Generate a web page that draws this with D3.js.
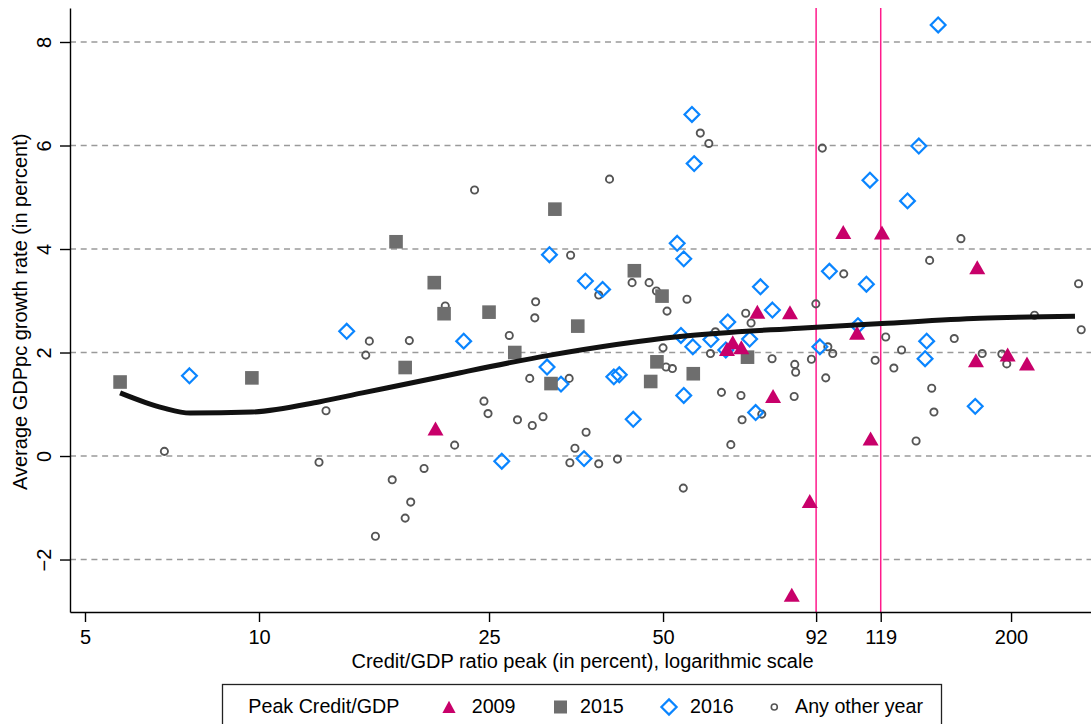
<!DOCTYPE html>
<html>
<head>
<meta charset="utf-8">
<script src="https://cdn.jsdelivr.net/npm/d3@7"></script>
<style>
  body { margin: 0; background: #fff; }
  svg { display: block; font-family: 'Liberation Sans', Arial, Helvetica, sans-serif; }
</style>
</head>
<body>
<svg id="chart"></svg>
<script>
const width = 1091;
const height = 724;

// peak credit/GDP (percent) and average GDPpc growth (percent), by peak year
const peak2009 = [20.2, 64.5, 66.0, 68.3, 72.8, 77.5, 82.9, 83.5, 89.7, 102.5, 108.3, 114.3, 119.6, 173.9, 174.8, 197.3, 213.1];
const growth2009 = [0.52, 2.06, 2.19, 2.09, 2.78, 1.15, 2.77, -2.69, -0.88, 4.32, 2.37, 0.33, 4.31, 1.84, 3.64, 1.95, 1.78];

const peak2015 = [5.75, 9.72, 17.26, 17.9, 20.1, 20.9, 25.0, 27.7, 32.0, 32.5, 35.6, 44.6, 47.6, 48.8, 49.8, 56.4, 70.0];
const growth2015 = [1.43, 1.51, 4.14, 1.71, 3.35, 2.75, 2.78, 2.0, 1.40, 4.77, 2.51, 3.58, 1.44, 1.82, 3.09, 1.59, 1.91];

const peak2016 = [7.58, 14.18, 22.6, 26.3, 31.5, 31.8, 33.3, 36.5, 36.7, 39.3, 41.1, 42.0, 44.4, 52.9, 53.7, 54.3, 54.3,
  56.1, 56.3, 56.6, 60.5, 64.2, 64.7, 70.6, 72.3, 73.7, 77.3, 93.4, 97.0, 108.7, 112.4, 114.0, 132.4, 138.5, 142.0,
  142.9, 149.6, 173.4];
const growth2016 = [1.55, 2.41, 2.22, -0.10, 1.72, 3.89, 1.39, -0.05, 3.38, 3.22, 1.53, 1.57, 0.71, 4.11, 2.33, 3.81, 1.17,
  6.6, 2.11, 5.65, 2.25, 2.05, 2.59, 2.26, 0.84, 3.27, 2.82, 2.11, 3.57, 2.52, 3.32, 5.33, 4.93, 5.99, 1.88,
  2.22, 8.33, 0.96];

const peakOther = [6.86, 12.7, 13.06, 15.3, 15.52, 15.9, 17.0, 17.9, 18.2, 18.3, 19.3, 21.0, 21.8, 23.6, 24.5, 24.9,
  27.1, 28.0, 29.4, 29.7, 30.0, 30.1, 31.0, 34.4, 34.5, 34.6, 35.2, 36.8, 38.7, 38.7, 40.4, 41.7, 44.2, 47.3, 48.7,
  50.0, 50.6, 50.8, 51.9, 54.2, 55.0, 58.0, 60.0, 60.4, 61.6, 63.1, 65.5, 68.2, 68.5, 69.5, 71.0, 74.1, 77.2, 84.3,
  84.5, 84.8, 90.3, 91.9, 94.3, 95.6, 96.4, 98.3, 102.7, 116.4, 121.4, 125.4, 129.3, 137.0, 144.6, 145.8, 147.1,
  159.5, 163.8, 178.3, 192.8, 196.6, 219.6, 261.7, 264.5];
const growthOther = [0.09, -0.12, 0.875, 1.95, 2.22, -1.55, -0.46, -1.2, 2.23, -0.89, -0.24, 2.90, 0.21, 5.14, 1.06, 0.82,
  2.33, 0.70, 1.50, 0.59, 2.67, 2.98, 0.76, 1.50, -0.13, 3.88, 0.15, 0.46, 3.11, -0.15, 5.35, -0.06, 3.35, 3.35, 3.19,
  2.09, 1.72, 2.80, 1.69, -0.62, 3.03, 6.24, 6.04, 1.98, 2.40, 1.23, 0.22, 1.17, 0.70, 2.76, 2.57, 0.81, 1.88, 1.15,
  1.77, 1.62, 1.87, 2.94, 5.95, 1.51, 2.11, 1.98, 3.52, 1.85, 2.30, 1.70, 2.05, 0.29, 3.78, 1.31, 0.85,
  2.27, 4.20, 1.98, 1.97, 1.78, 2.72, 3.33, 2.44];

// fitted line
const fitX = [5.75, 6.82, 7.6, 9.72, 12.75, 15.1, 18.5, 22.3, 31.9, 53.5, 86, 119.6, 176.5, 258];
const fitY = [1.22, 0.93, 0.83, 0.85, 1.05, 1.22, 1.42, 1.61, 1.95, 2.31, 2.47, 2.56, 2.66, 2.70];

const xTicks = [5, 10, 25, 50, 92, 119, 200];
const yTicks = [-2, 0, 2, 4, 6, 8];
const markLines = [92, 119];

const legendItems = ['2009', '2015', '2016', 'Any other year'];

const svg = d3.select('#chart')
  .attr('width', width)
  .attr('height', height);

const x = d3.scaleLog().domain([4.71, 275]).range([70, 1091]);
const y = d3.scaleLinear().domain([-3.014, 8.657]).range([612, 8]);

// grid
svg.append('g')
  .selectAll('line')
  .data(yTicks)
  .enter()
  .append('line')
  .attr('x1', 70).attr('x2', 1091)
  .attr('y1', d => y(d)).attr('y2', d => y(d))
  .attr('stroke', '#9a9a9a')
  .attr('stroke-width', 1.4)
  .attr('stroke-dasharray', '6,4.7');

// reference lines
svg.append('g')
  .selectAll('line')
  .data(markLines)
  .enter()
  .append('line')
  .attr('x1', d => x(d)).attr('x2', d => x(d))
  .attr('y1', 8).attr('y2', 612)
  .attr('stroke', '#ff1a8c')
  .attr('stroke-width', 1.5);

// axes
const xAxis = svg.append('g')
  .attr('transform', 'translate(0,612)')
  .call(d3.axisBottom(x).tickValues(xTicks).tickFormat(d3.format('d'))
    .tickSize(10).tickSizeOuter(0).tickPadding(8));
xAxis.select('.domain').attr('stroke', '#000').attr('stroke-width', 1.4);
xAxis.selectAll('.tick line').attr('stroke', '#000').attr('stroke-width', 1.4);
xAxis.selectAll('.tick text')
  .attr('font-size', 20)
  .attr('font-family', "'Liberation Sans', Arial, sans-serif")
  .attr('fill', '#000');

const yAxis = svg.append('g')
  .attr('transform', 'translate(70,0)')
  .call(d3.axisLeft(y).tickValues(yTicks).tickFormat(d3.format('d'))
    .tickSize(10).tickSizeOuter(0));
yAxis.select('.domain').attr('stroke', '#000').attr('stroke-width', 1.4);
yAxis.selectAll('.tick line').attr('stroke', '#000').attr('stroke-width', 1.4);
yAxis.selectAll('.tick text')
  .attr('x', null).attr('dy', null)
  .attr('transform', 'translate(-19.5,0) rotate(-90)')
  .attr('text-anchor', 'middle')
  .attr('font-size', 20)
  .attr('font-family', "'Liberation Sans', Arial, sans-serif")
  .attr('fill', '#000');

// titles
svg.append('text')
  .attr('x', 582.5).attr('y', 667.5)
  .attr('text-anchor', 'middle')
  .attr('font-size', 20)
  .text('Credit/GDP ratio peak (in percent), logarithmic scale');

svg.append('text')
  .attr('transform', 'translate(27,490) rotate(-90)')
  .attr('text-anchor', 'start')
  .attr('font-size', 20)
  .text('Average GDPpc growth rate (in percent)');

// markers
const triPath = 'M0,-7.5L8,6.5L-8,6.5Z';
const diaPath = 'M0,-7.4L7.4,0L0,7.4L-7.4,0Z';
const colTri = '#c8006a';
const colSq = '#6e6e6e';
const colDia = '#0a85ff';
const colCirc = '#555555';

const pts = svg.append('g');

pts.selectAll('circle.other')
  .data(d3.zip(peakOther, growthOther))
  .enter()
  .append('circle')
  .attr('class', 'other')
  .attr('cx', d => x(d[0])).attr('cy', d => y(d[1]))
  .attr('r', 3.6)
  .attr('fill', 'none')
  .attr('stroke', colCirc)
  .attr('stroke-width', 1.9);

pts.selectAll('path.p2016')
  .data(d3.zip(peak2016, growth2016))
  .enter()
  .append('path')
  .attr('class', 'p2016')
  .attr('d', diaPath)
  .attr('transform', d => 'translate(' + x(d[0]) + ',' + y(d[1]) + ')')
  .attr('fill', 'none')
  .attr('stroke', colDia)
  .attr('stroke-width', 2.2);

pts.selectAll('rect.p2015')
  .data(d3.zip(peak2015, growth2015))
  .enter()
  .append('rect')
  .attr('class', 'p2015')
  .attr('x', d => x(d[0]) - 6.8).attr('y', d => y(d[1]) - 6.8)
  .attr('width', 13.6).attr('height', 13.6)
  .attr('fill', colSq);

pts.selectAll('path.p2009')
  .data(d3.zip(peak2009, growth2009))
  .enter()
  .append('path')
  .attr('class', 'p2009')
  .attr('d', triPath)
  .attr('transform', d => 'translate(' + x(d[0]) + ',' + y(d[1]) + ')')
  .attr('fill', colTri);

// fit line
const line = d3.line()
  .x(d => x(d[0]))
  .y(d => y(d[1]))
  .curve(d3.curveMonotoneX);

svg.append('path')
  .attr('d', line(d3.zip(fitX, fitY)))
  .attr('fill', 'none')
  .attr('stroke', '#111')
  .attr('stroke-width', 5)
  .attr('stroke-linejoin', 'round');

// legend
const legend = svg.append('g');
legend.append('rect')
  .attr('x', 222.5).attr('y', 684.5)
  .attr('width', 719).attr('height', 60)
  .attr('fill', '#fff')
  .attr('stroke', '#222')
  .attr('stroke-width', 1.3);

legend.append('text')
  .attr('x', 248.3).attr('y', 712.5)
  .attr('font-size', 19.7)
  .text('Peak Credit/GDP');

const legX = [449, 560.5, 669, 774.3];
const legTextX = [471.7, 580, 690, 795];
const legY = 707;

legend.append('path')
  .attr('d', 'M0,-6.8L6.6,5.6L-6.6,5.6Z')
  .attr('transform', 'translate(' + legX[0] + ',' + (legY + 0.5) + ')')
  .attr('fill', colTri);
legend.append('rect')
  .attr('x', legX[1] - 6.5).attr('y', legY - 6.5)
  .attr('width', 13).attr('height', 13)
  .attr('fill', colSq);
legend.append('path')
  .attr('d', 'M0,-7.6L7.6,0L0,7.6L-7.6,0Z')
  .attr('transform', 'translate(' + legX[2] + ',' + legY + ')')
  .attr('fill', 'none')
  .attr('stroke', colDia)
  .attr('stroke-width', 2.2);
legend.append('circle')
  .attr('cx', legX[3]).attr('cy', legY)
  .attr('r', 3)
  .attr('fill', 'none')
  .attr('stroke', colCirc)
  .attr('stroke-width', 1.6);

legend.selectAll('text.item')
  .data(legendItems)
  .enter()
  .append('text')
  .attr('class', 'item')
  .attr('x', (d, i) => legTextX[i])
  .attr('y', 712.5)
  .attr('font-size', 19.7)
  .text(d => d);
</script>
</body>
</html>
